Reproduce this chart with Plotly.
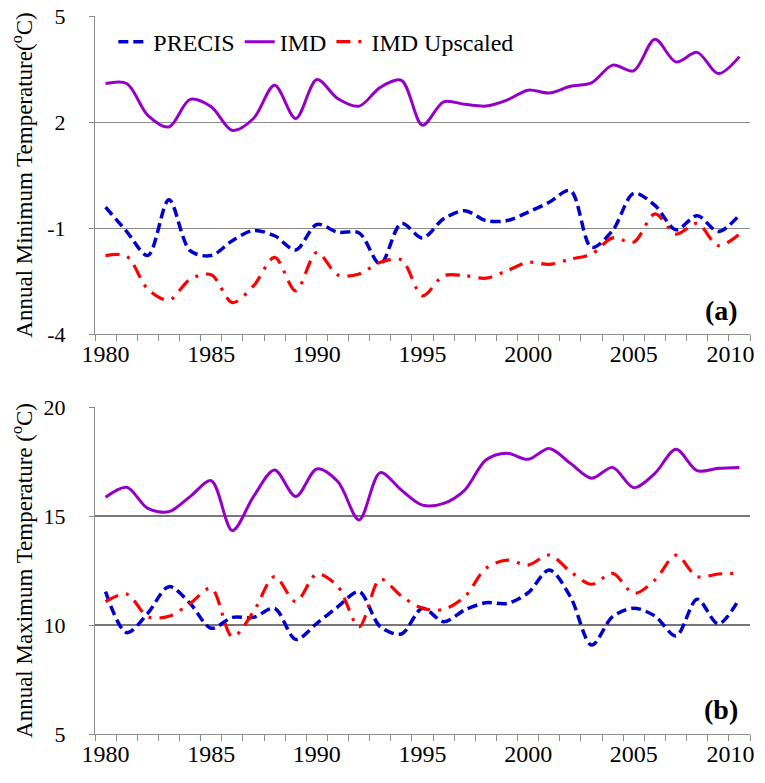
import plotly.graph_objects as go
from plotly.subplots import make_subplots

years = list(range(1980, 2011))

# Panel (a): annual minimum temperature
min_precis = [-0.41, -1.10, -1.78, -0.20, -1.64, -1.78, -1.36, -1.07, -1.22, -1.62,
              -0.90, -1.12, -1.14, -2.02, -0.87, -1.28, -0.74, -0.51, -0.79, -0.79,
              -0.55, -0.27, 0.06, -1.55, -1.07, -0.02, -0.36, -1.05, -0.65, -1.10, -0.63]
min_imd = [3.09, 3.09, 2.19, 1.86, 2.64, 2.43, 1.76, 2.10, 3.04, 2.10,
           3.20, 2.66, 2.45, 2.98, 3.18, 1.91, 2.57, 2.50, 2.45, 2.62,
           2.90, 2.82, 3.01, 3.11, 3.61, 3.45, 4.34, 3.70, 3.97, 3.37, 3.85]
min_imd_up = [-1.78, -1.80, -2.73, -3.04, -2.45, -2.32, -3.11, -2.64, -1.83, -2.78,
              -1.69, -2.33, -2.30, -1.97, -1.90, -2.92, -2.35, -2.35, -2.42, -2.21,
              -1.97, -2.03, -1.88, -1.74, -1.28, -1.40, -0.60, -1.17, -0.87, -1.50, -1.17]

# Panel (b): annual maximum temperature
max_precis = [11.53, 9.65, 10.54, 11.76, 10.99, 9.85, 10.35, 10.35, 10.76, 9.34,
              10.08, 10.84, 11.53, 9.92, 9.59, 10.77, 10.15, 10.69, 11.02, 10.99,
              11.48, 12.52, 11.30, 9.08, 10.38, 10.77, 10.41, 9.50, 11.18, 10.05, 11.22]
max_imd = [15.86, 16.32, 15.35, 15.20, 15.89, 16.62, 14.33, 15.89, 17.11, 15.89,
           17.16, 16.57, 14.82, 16.99, 16.19, 15.50, 15.58, 16.19, 17.57, 17.88,
           17.60, 18.10, 17.42, 16.73, 17.23, 16.30, 16.96, 18.06, 17.08, 17.19, 17.23]
max_imd_up = [11.07, 11.42, 10.38, 10.40, 10.99, 11.68, 9.46, 10.61, 12.22, 11.07,
              12.34, 11.76, 9.92, 12.10, 11.33, 10.77, 10.72, 11.30, 12.60, 12.98,
              12.75, 13.21, 12.45, 11.87, 12.37, 11.45, 12.06, 13.21, 12.22, 12.34, 12.37]

x_ticks = [1980, 1985, 1990, 1995, 2000, 2005, 2010]
x_tick_labels = ["1980", "1985", "1990", "1995", "2000", "2005", "2010\u00a0\u00a0\u00a0"]
y_ticks_a = [-4, -1, 2, 5]
y_tick_labels_a = ["-4", "-1", "2", "5"]
y_ticks_b = [5, 10, 15, 20]
y_tick_labels_b = ["5", "10", "15", "20"]

FONT = "Liberation Serif"
BLUE = "#0000CC"
PURPLE = "#9400C8"
RED = "#FF0000"
GRID = "#8c8c8c"

fig = make_subplots(rows=2, cols=1, vertical_spacing=0.1)

series = [
    ("PRECIS", min_precis, max_precis, dict(color=BLUE, width=3.5, dash="10px,5px")),
    ("IMD", min_imd, max_imd, dict(color=PURPLE, width=3)),
    ("IMD Upscaled", min_imd_up, max_imd_up, dict(color=RED, width=3.2, dash="14px,8px,3px,8px")),
]
for name, ya, yb, ln in series:
    fig.add_trace(go.Scatter(x=years, y=ya, name=name, mode="lines",
                             line=dict(shape="spline", smoothing=0.9, **ln),
                             legendgroup=name), row=1, col=1)
    fig.add_trace(go.Scatter(x=years, y=yb, name=name, mode="lines", showlegend=False,
                             line=dict(shape="spline", smoothing=0.9, **ln),
                             legendgroup=name), row=2, col=1)

xcommon = dict(range=[1979.5, 2010.5], tickvals=x_ticks, ticktext=x_tick_labels,
               ticks="", ticklabelstandoff=-2, automargin=False, ticklabeloverflow="allow",
               showgrid=False, showline=True, linecolor=GRID,
               linewidth=1, zeroline=False,
               tickfont=dict(family=FONT, size=24, color="black"),
               minor=dict(tick0=1979.5, dtick=1, ticks="outside", ticklen=6,
                          tickcolor=GRID, tickwidth=1, showgrid=False))
fig.update_xaxes(**xcommon, domain=[0, 1])

ycommon = dict(ticks="outside", ticklen=5, tickcolor=GRID, showline=True, linecolor=GRID,
               linewidth=1, showgrid=True, gridcolor=GRID, gridwidth=1, zeroline=False,
               automargin=False, ticklabeloverflow="allow",
               tickfont=dict(family=FONT, size=22, color="black"), ticklabelstandoff=19)
fig.update_yaxes(**ycommon, range=[-4, 5], tickvals=y_ticks_a, ticktext=y_tick_labels_a,
                 title=dict(text="Annual Minimum Temperature(<sup>o</sup>C)",
                            font=dict(family=FONT, size=23, color="black"), standoff=12),
                 domain=[0.5571, 1.0], row=1, col=1)
fig.update_yaxes(**ycommon, range=[5, 20], tickvals=y_ticks_b, ticktext=y_tick_labels_b,
                 title=dict(text="Annual Maximum Temperature (<sup>o</sup>C)",
                            font=dict(family=FONT, size=23, color="black"), standoff=12),
                 domain=[0.0, 0.4554], row=2, col=1)
fig.update_yaxes(gridwidth=2, gridcolor="#777777", row=2, col=1)

fig.add_annotation(text="<b>(a)</b>", xref="x domain", yref="y domain", x=0.985, y=0.02,
                   xanchor="right", yanchor="bottom", showarrow=False,
                   font=dict(family=FONT, size=28, color="black"))
fig.add_annotation(text="<b>(b)</b>", xref="x2 domain", yref="y2 domain", x=0.985, y=0.02,
                   xanchor="right", yanchor="bottom", showarrow=False,
                   font=dict(family=FONT, size=28, color="black"))

# The page body has an 8px margin; size the figure so the plot areas land where
# they are in the reference (x 95-750, y 16-334 and 407-734 in window pixels).
fig.update_layout(
    width=749, height=767,
    margin=dict(l=87, r=7, t=8, b=41, autoexpand=False),
    paper_bgcolor="white", plot_bgcolor="white",
    font=dict(family=FONT, size=20, color="black"),
    showlegend=True,
    legend=dict(orientation="h", x=0.028, y=0.995, xanchor="left", yanchor="top",
                bgcolor="rgba(0,0,0,0)", font=dict(family=FONT, size=24, color="black"),
                itemwidth=30, tracegroupgap=0),
)

fig.write_html("out.html")
